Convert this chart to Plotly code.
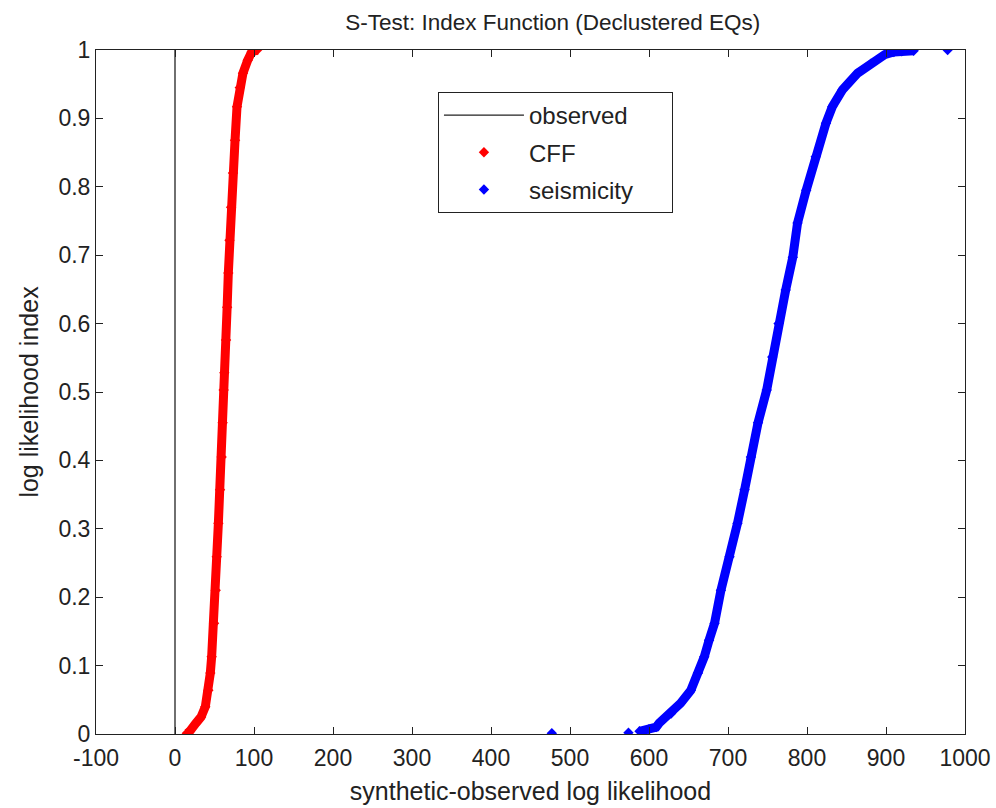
import plotly.graph_objects as go

# CFF curve (synthetic-observed log likelihood, index)
cff_x = [15, 18, 26.6, 33, 38.4, 42.2, 44.7, 46.4, 49.4, 51.5, 52.8, 54.9, 57, 59, 60.3,
         61.6, 62.4, 64.6, 66, 67.5, 69, 71, 73.4, 76, 78.5, 82, 86, 92, 97, 104]
cff_y = [0.001, 0.003, 0.016, 0.025, 0.04, 0.064, 0.089, 0.113, 0.162, 0.21, 0.259, 0.308,
         0.357, 0.405, 0.455, 0.503, 0.528, 0.576, 0.624, 0.674, 0.722, 0.77, 0.82, 0.868,
         0.917, 0.945, 0.966, 0.985, 0.997, 1.0]

# seismicity curve (continuous part)
seis_x = [588, 600, 609, 613, 628, 640, 653, 662, 670, 676, 683, 691, 702, 712, 721, 729,
          738, 749, 756, 764, 773, 782, 788, 799, 811, 824, 832, 845, 864, 881, 898, 910,
          920, 935]
seis_y = [0.004, 0.007, 0.01, 0.016, 0.03, 0.045, 0.064, 0.089, 0.113, 0.137, 0.162, 0.21,
          0.259, 0.308, 0.357, 0.405, 0.455, 0.503, 0.551, 0.6, 0.649, 0.697, 0.747, 0.795,
          0.844, 0.893, 0.917, 0.942, 0.966, 0.98, 0.993, 0.997, 0.998, 0.999]
# isolated seismicity points
seis_out_x = [477, 574, 978]
seis_out_y = [0.001, 0.002, 1.0]

obs_x = [0, 0]
obs_y = [0, 1]

x_ticks = [-100, 0, 100, 200, 300, 400, 500, 600, 700, 800, 900, 1000]
x_tick_labels = ["-100", "0", "100", "200", "300", "400", "500", "600", "700", "800",
                 "900", "1000"]

FONT = "Liberation Sans, Arial, sans-serif"

fig = go.Figure()
fig.add_trace(go.Scatter(x=obs_x, y=obs_y, mode="lines", name="observed", legendgroup="a",
                         line=dict(color="#222222", width=1.3)))
fig.add_trace(go.Scatter(x=cff_x, y=cff_y, mode="lines", showlegend=False,
                         line=dict(color="#ff0000", width=9)))
fig.add_trace(go.Scatter(x=cff_x, y=cff_y, mode="markers", name="CFF", legendgroup="b",
                         marker=dict(color="#ff0000", symbol="diamond", size=8)))
fig.add_trace(go.Scatter(x=seis_x, y=seis_y, mode="lines", showlegend=False,
                         line=dict(color="#0000ff", width=9)))
fig.add_trace(go.Scatter(x=seis_x + seis_out_x, y=seis_y + seis_out_y, mode="markers",
                         name="seismicity\u00a0\u00a0\u00a0\u00a0\u00a0", legendgroup="c",
                         marker=dict(color="#0000ff", symbol="diamond", size=8)))

axis_common = dict(showline=True, linecolor="#222222", linewidth=1, mirror="allticks",
                   ticks="inside", ticklen=7, tickcolor="#222222", showgrid=False,
                   zeroline=False, automargin=False,
                   tickfont=dict(family=FONT, size=23, color="#222222"))

fig.update_layout(
    width=996, height=808,
    margin=dict(l=96, r=31, t=50, b=74),
    paper_bgcolor="white", plot_bgcolor="white",
    font=dict(family=FONT, size=23, color="#222222"),
    title=dict(text="S-Test: Index Function (Declustered EQs)", x=0.555, xanchor="center",
               y=1 - 22 / 808, yanchor="middle", font=dict(size=22.5, color="#222222")),
    xaxis=dict(range=[-100, 1000], tickvals=x_ticks, ticktext=x_tick_labels,
               ticklabelstandoff=3,
               title=dict(text="synthetic-observed log likelihood", standoff=12,
                          font=dict(size=25)), **axis_common),
    yaxis=dict(range=[0, 1], dtick=0.1, tick0=0,
               title=dict(text="log likelihood index", standoff=12, font=dict(size=25)),
               **axis_common),
    legend=dict(x=0.3935, y=0.9386, xanchor="left", yanchor="top",
                bgcolor="white", bordercolor="#222222", borderwidth=1,
                font=dict(size=24), itemwidth=80, tracegroupgap=3),
    showlegend=True,
)

fig.write_html("out.html")
